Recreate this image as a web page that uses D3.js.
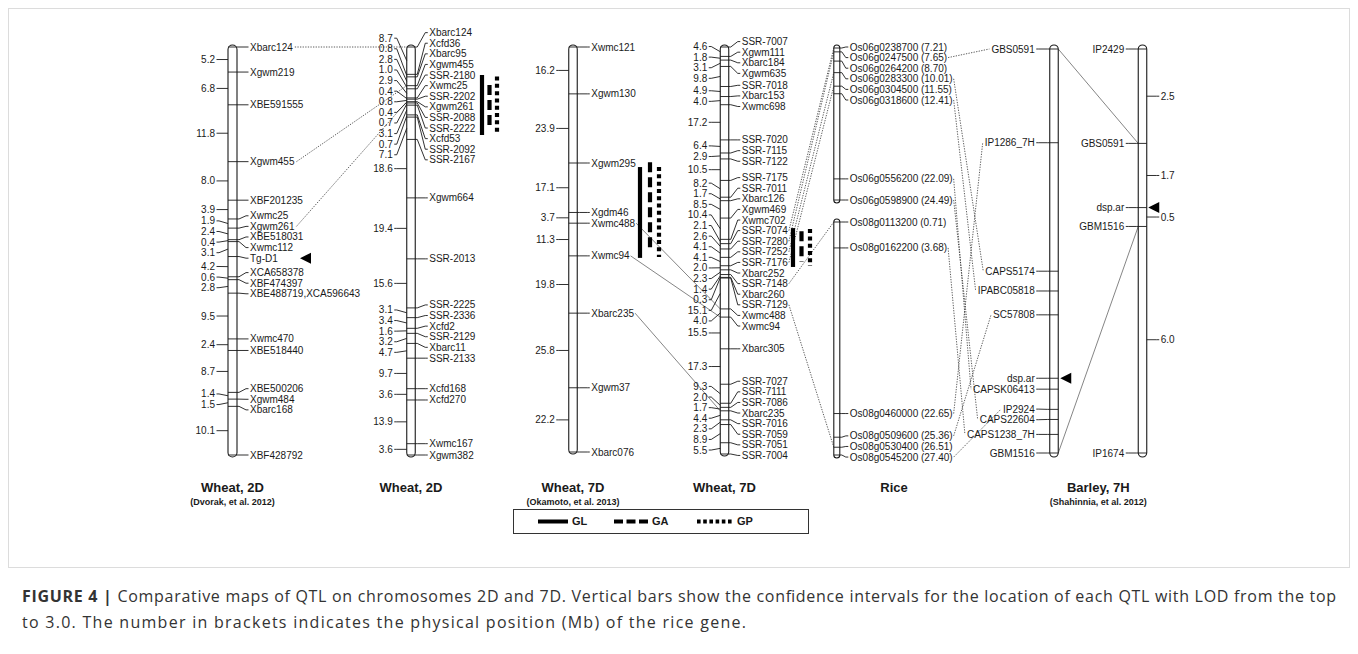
<!DOCTYPE html>
<html>
<head>
<meta charset="utf-8">
<script src="https://d3js.org/d3.v7.min.js"></script>
<style>
  body { margin: 0; background: #fff; }
  svg text { font-family: "Liberation Sans", Arial, sans-serif; fill: #1a1a1a; }
</style>
</head>
<body>
<svg id="vis" width="1358" height="654"></svg>
<script>
// ---------- data ----------
// Wheat 2D (Dvorak et al. 2012): markers and intervals (cM)
const w2dA_markers = ["Xbarc124","Xgwm219","XBE591555","Xgwm455","XBF201235","Xwmc25","Xgwm261","XBE518031","Xwmc112","Tg-D1","XCA658378","XBF474397","XBE488719,XCA596643","Xwmc470","XBE518440","XBE500206","Xgwm484","Xbarc168","XBF428792"];
const w2dA_dist = [5.2,6.8,11.8,8.0,3.9,1.9,2.4,0.4,3.1,4.2,0.6,2.8,9.5,2.4,8.7,1.4,1.5,10.1];

// Wheat 2D (this study)
const w2dB_markers = ["Xbarc124","Xcfd36","Xbarc95","Xgwm455","SSR-2180","Xwmc25","SSR-2202","Xgwm261","SSR-2088","SSR-2222","Xcfd53","SSR-2092","SSR-2167","Xgwm664","SSR-2013","SSR-2225","SSR-2336","Xcfd2","SSR-2129","Xbarc11","SSR-2133","Xcfd168","Xcfd270","Xwmc167","Xgwm382"];
const w2dB_dist = [8.7,0.8,2.8,1.0,2.9,0.4,0.8,0.4,0.7,3.1,0.7,7.1,18.6,19.4,15.6,3.1,3.4,1.6,3.2,4.7,9.7,3.6,13.9,3.6];

// Wheat 7D (Okamoto et al. 2013)
const w7dA_markers = ["Xwmc121","Xgwm130","Xgwm295","Xgdm46","Xwmc488","Xwmc94","Xbarc235","Xgwm37","Xbarc076"];
const w7dA_dist = [16.2,23.9,17.1,3.7,11.3,19.8,25.8,22.2];

// Wheat 7D (this study)
const w7dB_markers = ["SSR-7007","Xgwm111","Xbarc184","Xgwm635","SSR-7018","Xbarc153","Xwmc698","SSR-7020","SSR-7115","SSR-7122","SSR-7175","SSR-7011","Xbarc126","Xgwm469","Xwmc702","SSR-7074","SSR-7280","SSR-7252","SSR-7176","Xbarc252","SSR-7148","Xbarc260","SSR-7129","Xwmc488","Xwmc94","Xbarc305","SSR-7027","SSR-7111","SSR-7086","Xbarc235","SSR-7016","SSR-7059","SSR-7051","SSR-7004"];
const w7dB_dist = [4.6,1.8,3.1,9.8,4.9,4.0,17.2,6.4,2.9,10.5,8.2,1.7,8.5,10.4,2.1,2.6,4.1,4.1,2.0,2.3,1.4,0.3,15.1,4.0,15.5,17.3,9.3,2.0,1.7,4.4,2.3,8.9,5.5];

// Rice chromosomes 6 and 8: genes and physical positions (Mb)
const rice6_genes = ["Os06g0238700","Os06g0247500","Os06g0264200","Os06g0283300","Os06g0304500","Os06g0318600","Os06g0556200","Os06g0598900"];
const rice6_mb = [7.21,7.65,8.70,10.01,11.55,12.41,22.09,24.49];
const rice8_genes = ["Os08g0113200","Os08g0162200","Os08g0460000","Os08g0509600","Os08g0530400","Os08g0545200"];
const rice8_mb = [0.71,3.68,22.65,25.36,26.51,27.40];

// Barley 7H: left map (relative position, 0-100) and Shahinnia map (intervals, cM)
const barleyA_markers = ["GBS0591","IP1286_7H","CAPS5174","IPABC05818","SC57808","dsp.ar","CAPSK06413","IP2924","CAPS22604","CAPS1238_7H","GBM1516"];
const barleyA_pos = [0,23.2,55.0,59.9,65.8,81.5,84.2,89.2,91.7,95.4,100];
const barleyB_markers = ["IP2429","GBS0591","dsp.ar","GBM1516","IP1674"];
const barleyB_dist = [2.5,1.7,0.5,6.0];

// QTL confidence intervals (cM from top of map)
const qtl_2D = [["GL",8.9,28.0],["GA",12.1,25.0],["GP",9.4,27.7]];
const qtl_7D_A = [["GL",41.5,72.9],["GA",39.8,70.9],["GP",41.5,72.6]];
const qtl_7D_B = [["GL",88.5,107.5],["GA",90.0,105.0],["GP",89.0,107.0]];

// connections between maps
const links_2D = [["Xbarc124","Xbarc124"],["Xgwm455","Xgwm455"],["Xgwm261","Xgwm261"]];
const links_7D = [["Xwmc488","Xwmc488"],["Xwmc94","Xwmc94"],["Xbarc235","Xbarc235"]];
const links_7D_rice = [["SSR-7074","Os06g0238700"],["SSR-7280","Os06g0247500"],["SSR-7252","Os06g0283300"],["SSR-7176","Os06g0304500"],["SSR-7148","Os08g0113200"],["SSR-7129","Os08g0530400"]];
const links_rice_barley = [["Os06g0247500","GBS0591"],["Os06g0283300","CAPS5174"],["Os06g0318600","IPABC05818"],["Os06g0556200","CAPSK06413"],["Os06g0598900","CAPS22604"],["Os08g0162200","CAPS1238_7H"],["Os08g0460000","IP1286_7H"],["Os08g0509600","SC57808"],["Os08g0545200","IP2924"]];
const links_barley = [["GBS0591","GBS0591"],["GBM1516","GBM1516"]];

const legendItems = ["GL","GA","GP"];

// ---------- drawing ----------
const svg = d3.select("#vis");
const FS = 10, GAP = 10.6;
const dashes = { GL: null, GA: "10,5", GP: "4,3.3" };
const legendDashes = { GL: null, GA: "9,3.5", GP: "3.6,2.6" };

// light frame round the figure
svg.append("rect").attr("x", 8.5).attr("y", 8.5).attr("width", 1341).attr("height", 559)
  .attr("fill", "none").attr("stroke", "#dcdcdc").attr("stroke-width", 1);

const gLinks = svg.append("g");
const gMain = svg.append("g");
const measurer = svg.append("text").attr("visibility", "hidden");
function tw(s, fs, fw) {
  measurer.attr("font-size", fs).attr("font-weight", fw || "normal").text(s);
  return measurer.node().getComputedTextLength();
}
const line = d3.line();

function cumul(dist) {
  const p = [0];
  dist.forEach(d => p.push(p[p.length - 1] + d));
  return p;
}

// spread labels so they don't overlap, clusters centred on their targets
function spread(targets, gap, minY) {
  let cl = targets.map((t, i) => ({ i0: i, n: 1, sum: t }));
  const top = c => Math.max(minY == null ? -1e9 : minY, c.sum / c.n - (c.n - 1) * gap / 2);
  let changed = true;
  while (changed) {
    changed = false;
    for (let k = 0; k < cl.length - 1; k++) {
      const a = cl[k], b = cl[k + 1];
      if (top(a) + a.n * gap > top(b) + 0.01) {
        cl.splice(k, 2, { i0: a.i0, n: a.n + b.n, sum: a.sum + b.sum });
        changed = true;
        break;
      }
    }
  }
  const out = [];
  cl.forEach(c => { for (let j = 0; j < c.n; j++) out.push(top(c) + j * gap); });
  return out;
}

function chromosome(o) {
  const y = d3.scaleLinear()
    .domain([o.pos[0], o.pos[o.pos.length - 1]])
    .range([o.top + o.pad, o.bottom - o.pad]);
  const L = o.cx - o.w / 2, R = o.cx + o.w / 2;
  const g = gMain.append("g");
  const ty = o.pos.map(y);
  const ly = spread(ty, GAP, o.minY);
  const right = o.side === "right";
  const lx = right ? R + o.off : L - o.off;
  const marks = o.labels.map((n, i) => {
    const w = tw(n, FS);
    return { name: o.names[i], label: n, ty: ty[i], ly: ly[i], x0: right ? lx : lx - w, x1: right ? lx + w : lx };
  });

  g.append("rect")
    .attr("x", L).attr("y", o.top)
    .attr("width", o.w).attr("height", o.bottom - o.top)
    .attr("rx", o.w / 2).attr("ry", o.w / 2)
    .attr("fill", "#fff").attr("stroke", "#1a1a1a").attr("stroke-width", 1.1);

  g.selectAll("path.ld").data(marks).join("path")
    .attr("fill", "none").attr("stroke", "#1a1a1a").attr("stroke-width", 0.9)
    .attr("d", d => right
      ? line([[L, d.ty], [R + 2, d.ty], [lx - 4, d.ly], [lx - 1.5, d.ly]])
      : line([[R, d.ty], [L - 2, d.ty], [lx + 4, d.ly], [lx + 1.5, d.ly]]));

  g.selectAll("text.mk").data(marks).join("text")
    .attr("x", lx).attr("y", d => d.ly).attr("dy", "0.35em")
    .attr("font-size", FS)
    .attr("text-anchor", right ? "start" : "end")
    .text(d => d.label);

  if (o.dist) {
    const mids = o.dist.map((d, i) => (ty[i] + ty[i + 1]) / 2);
    const dly = spread(mids, GAP);
    const dx = right ? L - o.off : R + o.off;
    const dd = o.dist.map((d, i) => ({ v: d, ty: mids[i], ly: dly[i] }));
    g.selectAll("path.dl").data(dd).join("path")
      .attr("fill", "none").attr("stroke", "#1a1a1a").attr("stroke-width", 0.9)
      .attr("d", d => right
        ? line([[dx + 1.5, d.ly], [dx + 4, d.ly], [L, d.ty]])
        : line([[dx - 1.5, d.ly], [dx - 4, d.ly], [R, d.ty]]));
    g.selectAll("text.dt").data(dd).join("text")
      .attr("x", dx).attr("y", d => d.ly).attr("dy", "0.35em")
      .attr("font-size", FS)
      .attr("text-anchor", right ? "end" : "start")
      .text(d => d3.format(".1f")(d.v));
  }
  return { L, R, y, cx: o.cx, marks: new Map(marks.map(m => [m.name, m])) };
}

function qtl(chr, list, offsets) {
  list.forEach((q, i) => {
    gMain.append("line")
      .attr("x1", chr.cx + offsets[i]).attr("x2", chr.cx + offsets[i])
      .attr("y1", chr.y(q[1])).attr("y2", chr.y(q[2]))
      .attr("stroke", "#000").attr("stroke-width", 4.2)
      .attr("stroke-dasharray", dashes[q[0]]);
  });
}

function triangle(x, y) {
  gMain.append("path")
    .attr("d", `M${x},${y} L${x + 11},${y - 5.5} L${x + 11},${y + 5.5} Z`)
    .attr("fill", "#000");
}

function link(p, q, dotted) {
  gLinks.append("path")
    .attr("d", line([p, q]))
    .attr("fill", "none")
    .attr("stroke", "#333")
    .attr("stroke-width", dotted ? 0.8 : 0.6)
    .attr("stroke-dasharray", dotted ? "1.3,1.3" : null);
}

// maps
const c1 = chromosome({ cx: 232.5, w: 9, top: 45, bottom: 457, pad: 2, pos: cumul(w2dA_dist), names: w2dA_markers, labels: w2dA_markers, dist: w2dA_dist, side: "right", off: 13 });
const c2 = chromosome({ cx: 411, w: 8.5, top: 45, bottom: 457, pad: 2, pos: cumul(w2dB_dist), names: w2dB_markers, labels: w2dB_markers, dist: w2dB_dist, side: "right", off: 14 });
const c3 = chromosome({ cx: 573, w: 8.5, top: 45, bottom: 454, pad: 2, pos: cumul(w7dA_dist), names: w7dA_markers, labels: w7dA_markers, dist: w7dA_dist, side: "right", off: 14 });
const c4 = chromosome({ cx: 724.5, w: 8.5, top: 45, bottom: 456, pad: 2, pos: cumul(w7dB_dist), names: w7dB_markers, labels: w7dB_markers, dist: w7dB_dist, side: "right", off: 13 });
const r6 = chromosome({ cx: 836.8, w: 6, top: 45, bottom: 203, pad: 3, pos: rice6_mb, names: rice6_genes, labels: rice6_genes.map((g, i) => g + " (" + rice6_mb[i].toFixed(2) + ")"), side: "right", off: 10, minY: 47 });
const r8 = chromosome({ cx: 836.8, w: 6, top: 219, bottom: 458, pad: 3, pos: rice8_mb, names: rice8_genes, labels: rice8_genes.map((g, i) => g + " (" + rice8_mb[i].toFixed(2) + ")"), side: "right", off: 10, minY: 221 });
const b1 = chromosome({ cx: 1054, w: 8.5, top: 45, bottom: 457, pad: 4, pos: barleyA_pos, names: barleyA_markers, labels: barleyA_markers, side: "left", off: 15 });
const b2 = chromosome({ cx: 1142.5, w: 8.5, top: 45, bottom: 457, pad: 4, pos: cumul(barleyB_dist), names: barleyB_markers, labels: barleyB_markers, dist: barleyB_dist, side: "left", off: 14 });

// QTL bars
qtl(c2, qtl_2D, [71, 78.5, 86]);
qtl(c3, qtl_7D_A, [67, 77, 86]);
qtl(c4, qtl_7D_B, [68.5, 77, 85.5]);

// arrows for the target genes
triangle(c1.R + 63, c1.marks.get("Tg-D1").ly);
triangle(b1.R + 2, b1.marks.get("dsp.ar").ty);
triangle(b2.R + 1.5, b2.marks.get("dsp.ar").ty);

// connections
const riceMarks = new Map([...r6.marks, ...r8.marks]);
links_2D.forEach(([a, b]) => { const m = c1.marks.get(a), n = c2.marks.get(b); link([m.x1 + 2, m.ly], [c2.L, n.ty], true); });
links_7D.forEach(([a, b]) => { const m = c3.marks.get(a), n = c4.marks.get(b); link([m.x1 + 1, m.ly], [c4.L, n.ty], false); });
links_7D_rice.forEach(([a, b]) => { const m = c4.marks.get(a), n = riceMarks.get(b); link([m.x1 + 1, m.ly], [r6.L, n.ty], true); });
links_rice_barley.forEach(([a, b]) => { const m = riceMarks.get(a), n = b1.marks.get(b); link([m.x1 + 1, m.ly], [n.x0 - 2, n.ly], true); });
links_barley.forEach(([a, b]) => { const m = b1.marks.get(a), n = b2.marks.get(b); link([b1.R, m.ty], [b2.L, n.ty], false); });

// titles
const titles = [
  [c1.cx, "Wheat, 2D", "(Dvorak, et al. 2012)"],
  [c2.cx, "Wheat, 2D", null],
  [c3.cx, "Wheat, 7D", "(Okamoto, et al. 2013)"],
  [c4.cx, "Wheat, 7D", null],
  [894, "Rice", null],
  [(b1.cx + b2.cx) / 2, "Barley, 7H", "(Shahinnia, et al. 2012)"]
];
titles.forEach(([x, t, s]) => {
  gMain.append("text").attr("x", x).attr("y", 492).attr("text-anchor", "middle")
    .attr("font-size", 13).attr("font-weight", "bold").text(t);
  if (s) gMain.append("text").attr("x", x).attr("y", 505).attr("text-anchor", "middle")
    .attr("font-size", 9).attr("font-weight", "bold").text(s);
});

// legend
const lg = gMain.append("g");
lg.append("rect").attr("x", 513.5).attr("y", 509.5).attr("width", 295).attr("height", 24)
  .attr("fill", "#fff").attr("stroke", "#333").attr("stroke-width", 1);
legendItems.forEach((k, i) => {
  const x0 = [538, 614, 697][i], len = [30, 34, 36][i];
  lg.append("line").attr("x1", x0).attr("x2", x0 + len).attr("y1", 521.5).attr("y2", 521.5)
    .attr("stroke", "#000").attr("stroke-width", 4).attr("stroke-dasharray", legendDashes[k]);
  lg.append("text").attr("x", x0 + len + 4).attr("y", 521.5).attr("dy", "0.35em")
    .attr("font-size", 11).attr("font-weight", "bold").text(k);
});

// caption
const cap = svg.append("text").attr("x", 22).attr("y", 602)
  .style("font-family", "'Open Sans', sans-serif").attr("font-size", 16).style("fill", "#333")
  .attr("textLength", 1314).attr("lengthAdjust", "spacing");
cap.append("tspan").attr("font-weight", "bold").text("FIGURE 4 | ");
cap.append("tspan").text("Comparative maps of QTL on chromosomes 2D and 7D. Vertical bars show the confidence intervals for the location of each QTL with LOD from the top");
svg.append("text").attr("x", 22).attr("y", 628)
  .style("font-family", "'Open Sans', sans-serif").attr("font-size", 16).style("fill", "#333")
  .attr("textLength", 724).attr("lengthAdjust", "spacing")
  .text("to 3.0. The number in brackets indicates the physical position (Mb) of the rice gene.");
</script>
</body>
</html>
